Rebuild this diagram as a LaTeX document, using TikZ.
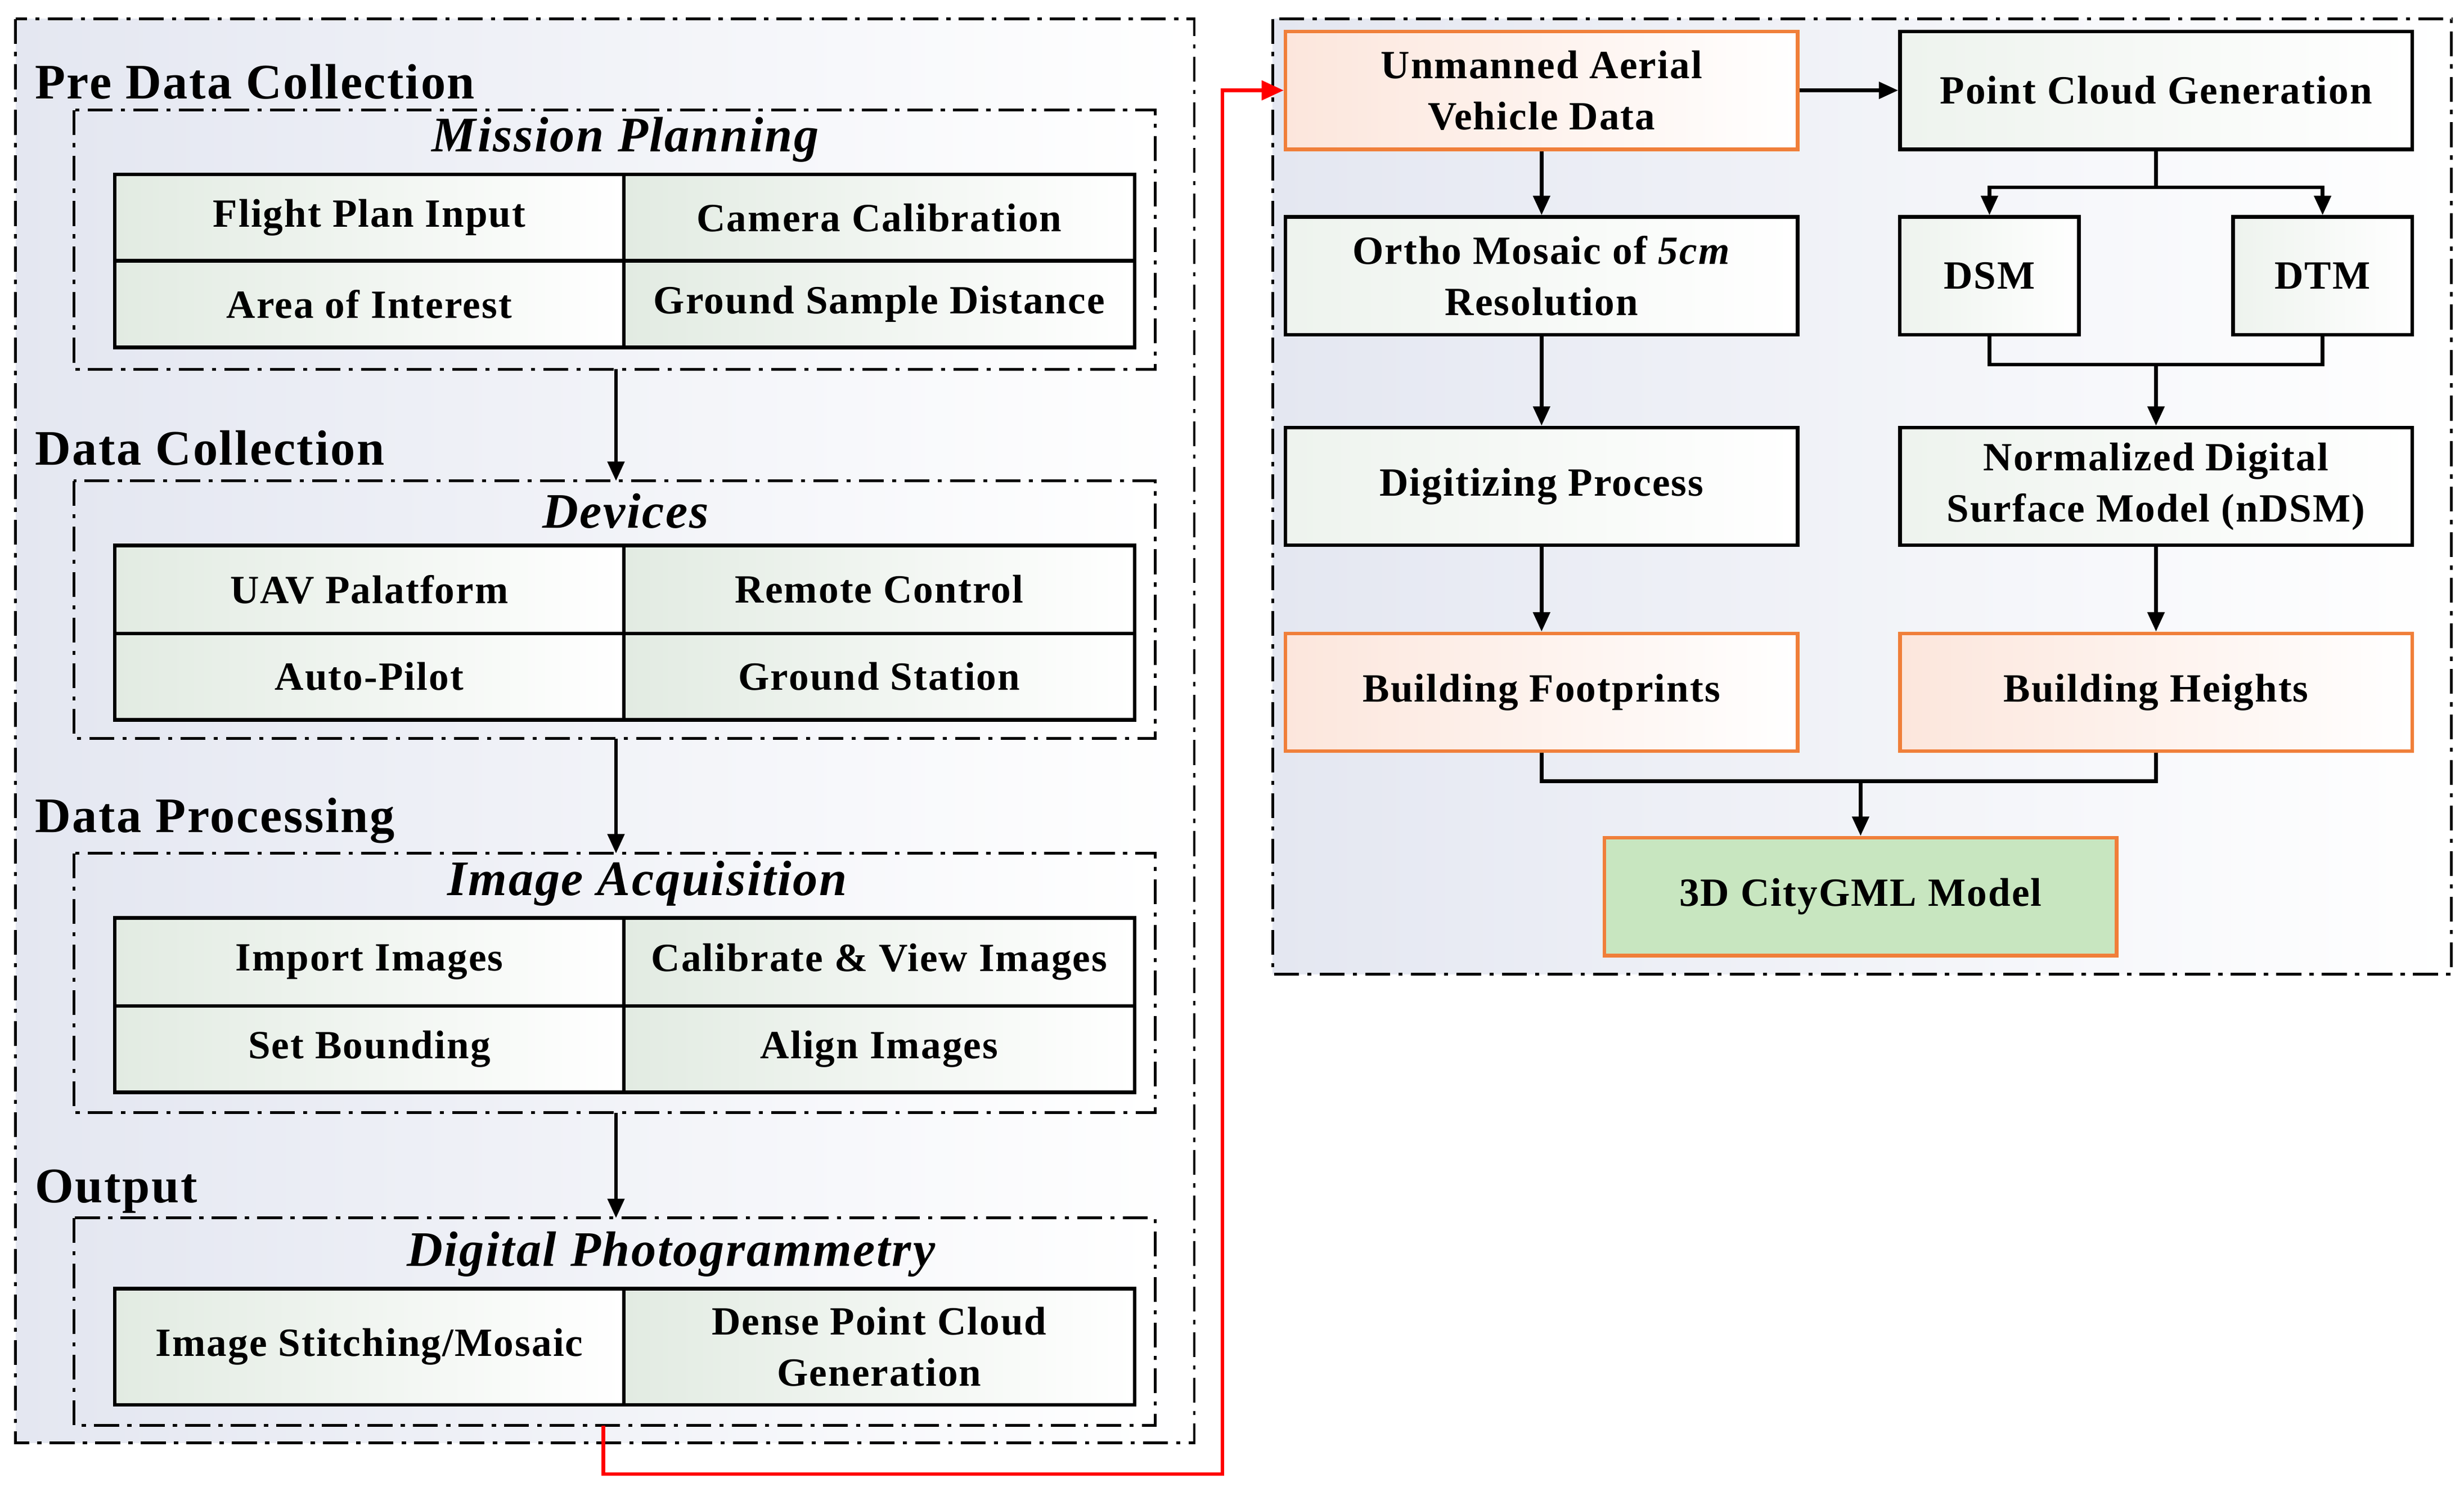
\documentclass[tikz,border=0pt]{standalone}
\usepackage{fontspec}
\setmainfont{Liberation Serif}[LetterSpace=3]
\usetikzlibrary{arrows.meta}
\definecolor{bgL}{HTML}{E4E7F1}
\definecolor{cellL}{HTML}{E2EBE2}
\definecolor{orL}{HTML}{FCE6DC}
\definecolor{orB}{HTML}{F07F3A}
\definecolor{grF}{HTML}{C8E6C0}
\begin{document}
\begin{tikzpicture}[x=0.02cm,y=-0.02cm,
  grp/.style={draw=black,line width=1pt,dash pattern=on 9pt off 3pt on 1.5pt off 3pt,left color=bgL,right color=white},
  cell/.style={draw=black,line width=1.3pt,left color=cellL,right color=white,inner sep=0pt,font=\fontsize{14.5}{18.5}\selectfont\bfseries,align=center},
  box/.style={draw=black,line width=1.3pt,left color=cellL!60,right color=white,inner sep=0pt,font=\fontsize{14.5}{18.5}\selectfont\bfseries,align=center},
  obox/.style={box,draw=orB,left color=orL},
  ttl/.style={anchor=west,font=\fontsize{18}{20}\selectfont\bfseries,inner sep=0pt},
  sttl/.style={font=\fontsize{18}{20}\selectfont\bfseries\itshape,inner sep=0pt},
  arr/.style={line width=1.3pt,-{Triangle[length=7pt,width=6pt]}},
  ln/.style={line width=1.3pt}]
\useasboundingbox (0,0) rectangle (1568,946);
% outer groups
\path[grp] (10,12) rectangle (760,918);
\path[grp] (810,12) rectangle (1560,620);
% left column
\node[ttl] at (22,52) {Pre Data Collection};
\path[grp] (47,70) rectangle (735,235);
\node[sttl] at (398,89) {Mission Planning};
\node[cell,minimum width=6.48cm,minimum height=1.1cm] (a1) at (235,138.5) {Flight Plan Input};
\node[cell,minimum width=6.5cm,minimum height=1.1cm] (a2) at (559.5,138.5) {Camera Calibration};
\node[cell,minimum width=6.48cm,minimum height=1.1cm] (a3) at (235,193.5) {Area of Interest};
\node[cell,minimum width=6.5cm,minimum height=1.1cm] (a4) at (559.5,193.5) {Ground Sample Distance};

\node[ttl] at (22,285) {Data Collection};
\path[grp] (47,306) rectangle (735,470);
\node[sttl] at (398,325) {Devices};
\node[cell,minimum width=6.48cm,minimum height=1.12cm] (b1) at (235,375) {UAV Palatform};
\node[cell,minimum width=6.5cm,minimum height=1.12cm] (b2) at (559.5,375) {Remote Control};
\node[cell,minimum width=6.48cm,minimum height=1.1cm] (b3) at (235,430.5) {Auto-Pilot};
\node[cell,minimum width=6.5cm,minimum height=1.1cm] (b4) at (559.5,430.5) {Ground Station};

\node[ttl] at (22,522) {Data Processing};
\path[grp] (47,543) rectangle (735,708);
\node[sttl] at (412,562) {Image Acquisition};
\node[cell,minimum width=6.48cm,minimum height=1.12cm] (c1) at (235,612) {Import Images};
\node[cell,minimum width=6.5cm,minimum height=1.12cm] (c2) at (559.5,612) {Calibrate \& View Images};
\node[cell,minimum width=6.48cm,minimum height=1.1cm] (c3) at (235,667.5) {Set Bounding};
\node[cell,minimum width=6.5cm,minimum height=1.1cm] (c4) at (559.5,667.5) {Align Images};

\node[ttl] at (22,758) {Output};
\path[grp] (47,775) rectangle (735,907);
\node[sttl] at (427,798) {Digital Photogrammetry};
\node[cell,minimum width=6.48cm,minimum height=1.48cm] (d1) at (235,857) {Image Stitching/Mosaic};
\node[cell,minimum width=6.5cm,minimum height=1.48cm] (d2) at (559.5,857) {Dense Point Cloud\\Generation};

\coordinate (m1) at (392,235); \coordinate (m2) at (392,306);
\coordinate (m3) at (392,470); \coordinate (m4) at (392,543);
\coordinate (m5) at (392,708); \coordinate (m6) at (392,775);
\draw[arr] (m1) -- (m2);
\draw[arr] (m3) -- (m4);
\draw[arr] (m5) -- (m6);

% right column
\node[obox,minimum width=6.52cm,minimum height=1.5cm] (uav) at (981,57.5) {Unmanned Aerial\\Vehicle Data};
\node[box,minimum width=6.52cm,minimum height=1.5cm] (pcg) at (1372,57.5) {Point Cloud Generation};
\node[box,minimum width=6.52cm,minimum height=1.5cm] (ortho) at (981,175.5) {Ortho Mosaic of \textit{5cm}\\Resolution};
\node[box,minimum width=2.28cm,minimum height=1.5cm] (dsm) at (1266,175.5) {DSM};
\node[box,minimum width=2.28cm,minimum height=1.5cm] (dtm) at (1478,175.5) {DTM};
\node[box,minimum width=6.52cm,minimum height=1.5cm] (dig) at (981,309.5) {Digitizing Process};
\node[box,minimum width=6.52cm,minimum height=1.5cm] (ndsm) at (1372,309.5) {Normalized Digital\\Surface Model (nDSM)};
\node[obox,minimum width=6.52cm,minimum height=1.5cm] (bf) at (981,440.5) {Building Footprints};
\node[obox,minimum width=6.52cm,minimum height=1.5cm] (bh) at (1372,440.5) {Building Heights};
\node[box,draw=orB,fill=grF,left color=grF,right color=grF,minimum width=6.52cm,minimum height=1.5cm] (city) at (1184,570.5) {3D CityGML Model};

\draw[arr] (uav) -- (pcg);
\draw[arr] (uav) -- (ortho);
\draw[arr] (ortho) -- (dig);
\draw[arr] (dig) -- (bf);
\draw[arr] (ndsm) -- (bh);
\draw[ln] (pcg.south) -- ++(0,23) coordinate (p1);
\draw[arr] (p1) -| (dsm.north);
\draw[arr] (p1) -| (dtm.north);
\draw[ln] (dsm.south) |- (1372,232) coordinate (p2) -| (dtm.south);
\draw[arr] (p2) -- (ndsm.north);
\draw[ln] (bf.south) |- (1184,497) coordinate (p3) -| (bh.south);
\draw[arr] (p3) -- (city.north);

% red connector
\coordinate (r0) at (384,907);
\draw[red,line width=1.3pt,-{Triangle[length=8pt,width=7pt]}] (r0) -- (384,938) -- (778,938) -- (778,57.5) -- (uav.west);
\end{tikzpicture}
\end{document}
